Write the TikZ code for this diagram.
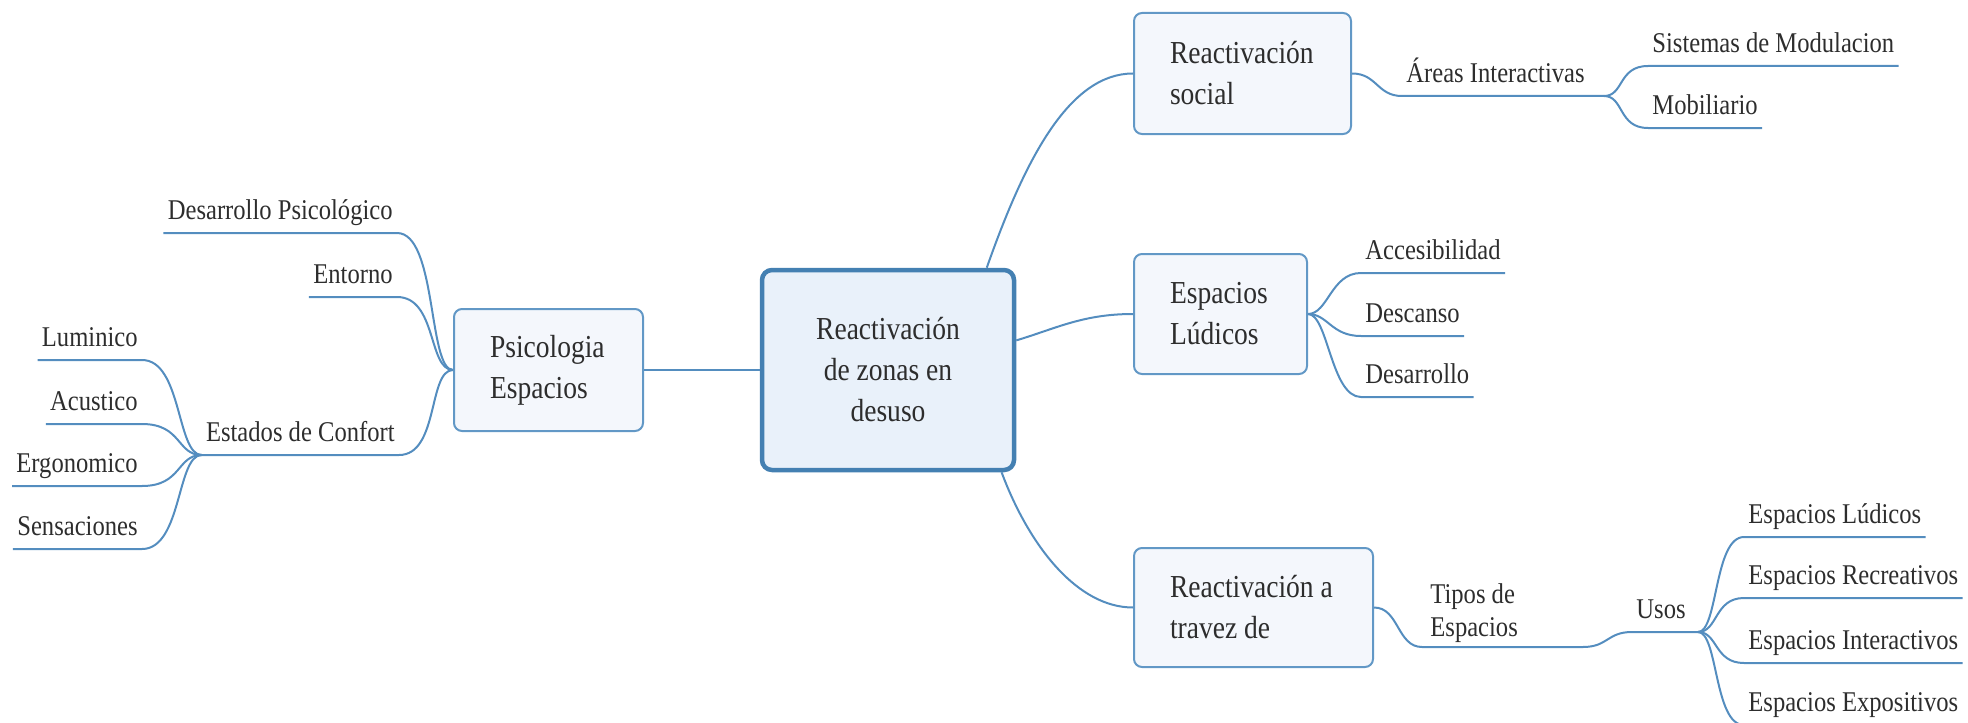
\documentclass[tikz,border=0pt]{standalone}
\usepackage{fontspec}
\setmainfont{Liberation Serif}[FakeStretch=0.86]
\definecolor{mapline}{RGB}{84,141,191}
\definecolor{boxline}{RGB}{98,152,198}
\definecolor{boxfill}{RGB}{244,247,252}
\definecolor{mainline}{RGB}{68,128,178}
\definecolor{mainfill}{RGB}{233,241,250}
\definecolor{txtgray}{RGB}{45,45,45}
\tikzset{
  branch/.style={draw=mapline, line width=1pt},
  leaf/.style={font=\fontsize{14.3}{16.5}\selectfont, text=txtgray, inner xsep=2pt, inner ysep=3pt},
  lineleaf/.style={leaf, text depth=3.5pt},
  topic/.style={draw=boxline, fill=boxfill, line width=1pt, rounded corners=4pt, inner xsep=18pt, inner ysep=0pt, align=flush left, font=\fontsize{16}{20.5}\selectfont, text=txtgray},
  central/.style={draw=mainline, fill=mainfill, line width=2.25pt, rounded corners=5pt, align=center, minimum width=126pt, minimum height=100pt, font=\fontsize{16}{20.5}\selectfont, text=txtgray}
}
\begin{document}
\begin{tikzpicture}[x=0.5pt,y=0.5pt,yscale=-1,xscale=1]
\useasboundingbox (0,0) rectangle (1968,722);

%Shape: Rectangle
\node[central] (main) at (888,370) {Reactivación\\de zonas en\\desuso};
%Shape: Rectangle
\node[topic, text width=58.5pt, minimum height=61pt] (psico) at (548.5,370) {Psicologia\\Espacios};
%Shape: Rectangle
\node[topic, text width=72.5pt, minimum height=60.5pt] (social) at (1242.5,73.5) {Reactivación\\social};
%Shape: Rectangle
\node[topic, text width=50.5pt, minimum height=60pt] (ludicos) at (1220.5,314) {Espacios\\Lúdicos};
%Shape: Rectangle
\node[topic, text width=83.5pt, minimum height=59.5pt] (travez) at (1253.5,607.5) {Reactivación a\\travez de};

% Text Node
\node[lineleaf, anchor=south east] (dpsico) at (397,233) {Desarrollo Psicológico};
\node[lineleaf, anchor=south east] (entorno) at (397,297) {Entorno};
\node[lineleaf, anchor=south east] (confort) at (399,455) {Estados de Confort};
\node[lineleaf, anchor=south east] (luminico) at (142,360) {Luminico};
\node[lineleaf, anchor=south east] (acustico) at (142,424) {Acustico};
\node[lineleaf, anchor=south east] (ergonomico) at (142,486) {Ergonomico};
\node[lineleaf, anchor=south east] (sensaciones) at (142,549) {Sensaciones};
% Text Node
\node[lineleaf, anchor=south west] (areas) at (1402,96) {Áreas Interactivas};
\node[lineleaf, anchor=south west] (sistemas) at (1648,66) {Sistemas de Modulacion};
\node[lineleaf, anchor=south west] (mobiliario) at (1648,128) {Mobiliario};
\node[lineleaf, anchor=south west] (acces) at (1361,273) {Accesibilidad};
\node[lineleaf, anchor=south west] (descanso) at (1361,336) {Descanso};
\node[lineleaf, anchor=south west] (desarrollo) at (1361,397) {Desarrollo};
% Text Node
\node[leaf, align=flush left, anchor=north west] (tipos) at (1426,577) {Tipos de\\Espacios};
\node[lineleaf, anchor=south west] (usos) at (1632,632) {Usos};
\node[lineleaf, anchor=south west] (uludicos) at (1744,537) {Espacios Lúdicos};
\node[lineleaf, anchor=south west] (urecrea) at (1744,598) {Espacios Recreativos};
\node[lineleaf, anchor=south west] (uinter) at (1744,663) {Espacios Interactivos};
\node[lineleaf, anchor=south west] (uexpo) at (1744,725) {Espacios Expositivos};

\coordinate (areasjoint) at (1604,96);
\coordinate (tiposstart) at (1422,647);
\coordinate (tiposend) at (1583,647);
\coordinate (usosjoint) at (1698,632);

%Straight Lines
\draw[branch] (main.west) -- (psico.east);
%Curve Lines
\draw[branch] (main.46) .. controls +(38,-108) and +(-64,0) .. (social.west);
\draw[branch] (main.13) .. controls +(40,-12) and +(-50,0) .. (ludicos.west);
\draw[branch] (main.-42) .. controls +(28,75) and +(-55,0) .. (travez.west);

%Curve Lines
\foreach \leaf in {dpsico,entorno,confort}
  \draw[branch] (psico.west) .. controls +(-25,0) and +(40,0) .. (\leaf.south east) -- (\leaf.south west);
\foreach \leaf in {luminico,acustico,ergonomico,sensaciones}
  \draw[branch] (confort.south west) .. controls +(-25,0) and +(40,0) .. (\leaf.south east) -- (\leaf.south west);

%Curve Lines
\draw[branch] (social.east) .. controls +(25,0) and +(-25,0) .. (areas.south west) -- (areasjoint);
\foreach \leaf in {sistemas,mobiliario}
  \draw[branch] (areasjoint) .. controls +(20,0) and +(-30,0) .. (\leaf.south west) -- (\leaf.south east);
\foreach \leaf in {acces,descanso,desarrollo}
  \draw[branch] (ludicos.east) .. controls +(20,0) and +(-30,0) .. (\leaf.south west) -- (\leaf.south east);
\draw[branch] (travez.east) .. controls +(25,0) and +(-25,0) .. (tiposstart) -- (tiposend) .. controls +(25,0) and +(-25,0) .. (usos.south west) -- (usosjoint);
\foreach \leaf in {uludicos,urecrea,uinter,uexpo}
  \draw[branch] (usosjoint) .. controls +(20,0) and +(-30,0) .. (\leaf.south west) -- (\leaf.south east);

\end{tikzpicture}
\end{document}
